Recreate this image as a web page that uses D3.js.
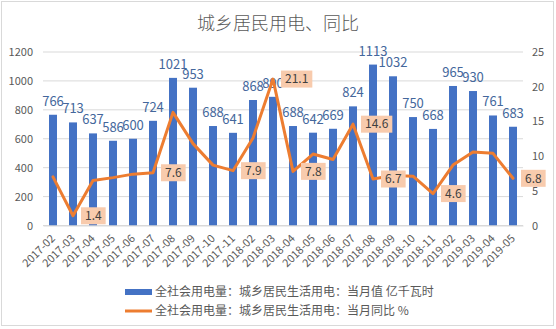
<!DOCTYPE html>
<html>
<head>
<meta charset="utf-8">
<script src="https://cdn.jsdelivr.net/npm/d3@7"></script>
<style>
  html, body { margin: 0; padding: 0; background: #fff; }
  svg { display: block; font-family: "Noto Sans CJK SC", "Noto Sans", sans-serif; }
</style>
</head>
<body>
<svg id="chart" width="556" height="329"></svg>
<script>
// Monthly urban & rural household electricity use (100 million kWh) and YoY growth (%)
const months = ["2017-02","2017-03","2017-04","2017-05","2017-06","2017-07","2017-08","2017-09","2017-10","2017-11",
                "2018-02","2018-03","2018-04","2018-05","2018-06","2018-07","2018-08","2018-09","2018-10","2018-11",
                "2019-02","2019-03","2019-04","2019-05"];
const monthlyValue = [766,713,637,586,600,724,1021,953,688,641,868,890,688,642,669,824,1113,1032,750,668,965,930,761,683];
const yoyGrowth = [7.0,1.4,6.5,6.9,7.4,7.6,16.3,11.8,8.7,7.9,12.6,21.1,7.8,10.3,9.5,14.6,6.7,7.2,7.1,4.6,8.7,10.6,10.4,6.8];
// growth values that carry a boxed label (null = no label)
const yoyLabels = [null,"1.4",null,null,null,"7.6",null,null,null,"7.9",null,"21.1","7.8",null,null,"14.6","6.7",null,null,"4.6",null,null,null,"6.8"];
const leftTicks = [0,200,400,600,800,1000,1200];
const rightTicks = [0,5,10,15,20,25];
const titleText = "城乡居民用电、同比";
const legendBar = "全社会用电量：城乡居民生活用电：当月值 亿千瓦时";
const legendLine = "全社会用电量：城乡居民生活用电：当月同比 %";

const svg = d3.select("#chart");
const plot = { left: 43, right: 523, top: 52, bottom: 225.5 };
const grey = "#595959";
const barColor = "#4472C4";
const lineColor = "#ED7D31";

// chart area frame
svg.append("rect").attr("x", 1.5).attr("y", 1.5).attr("width", 552).attr("height", 324)
  .attr("fill", "#fff").attr("stroke", "#d9d9d9");

const x = d3.scaleBand().domain(months).range([plot.left, plot.right])
  .paddingInner(0.6).paddingOuter(0.3);
const yL = d3.scaleLinear().domain([0, 1200]).range([plot.bottom, plot.top]);
const yR = d3.scaleLinear().domain([0, 25]).range([plot.bottom, plot.top]);
const cx = d => x(d) + x.bandwidth() / 2;

// title
svg.append("text").attr("x", 278).attr("y", 30).attr("text-anchor", "middle")
  .attr("font-size", 18).attr("font-weight", 300).attr("fill", grey).text(titleText);

// horizontal gridlines
svg.append("g").selectAll("line").data(leftTicks).join("line")
  .attr("x1", plot.left).attr("x2", plot.right)
  .attr("y1", d => yL(d)).attr("y2", d => yL(d))
  .attr("stroke", "#d9d9d9").attr("stroke-width", 1);

// left axis
const gL = svg.append("g").attr("transform", `translate(${plot.left},0)`)
  .call(d3.axisLeft(yL).tickValues(leftTicks).tickFormat(d3.format("d")).tickSize(0).tickPadding(10));
gL.select(".domain").remove();
gL.selectAll("text").attr("fill", grey).attr("font-size", 11)
  .style("font-family", "'Noto Sans CJK SC', sans-serif");

// right axis
const gR = svg.append("g").attr("transform", `translate(${plot.right},0)`)
  .call(d3.axisRight(yR).tickValues(rightTicks).tickFormat(d3.format("d")).tickSize(0).tickPadding(9));
gR.select(".domain").remove();
gR.selectAll("text").attr("fill", grey).attr("font-size", 11)
  .style("font-family", "'Noto Sans CJK SC', sans-serif");

// bars
svg.append("g").selectAll("rect").data(months).join("rect")
  .attr("x", d => x(d)).attr("width", x.bandwidth())
  .attr("y", (d, i) => yL(monthlyValue[i]))
  .attr("height", (d, i) => plot.bottom - yL(monthlyValue[i]))
  .attr("fill", barColor);

// bottom axis with rotated month labels
const gX = svg.append("g").attr("transform", `translate(0,${plot.bottom})`)
  .call(d3.axisBottom(x).tickSize(0).tickPadding(0));
gX.select(".domain").attr("stroke", "#d9d9d9");
gX.selectAll("text")
  .attr("fill", grey).attr("font-size", 11)
  .style("font-family", "'Noto Sans CJK SC', sans-serif")
  .attr("text-anchor", "end")
  .attr("dy", "0.35em").attr("y", 0)
  .attr("transform", "translate(0,11) rotate(-45)");

// bar value labels
svg.append("g").selectAll("text").data(months).join("text")
  .attr("x", d => cx(d)).attr("y", (d, i) => yL(monthlyValue[i]) - 9)
  .attr("text-anchor", "middle").attr("font-size", 13).attr("fill", "#44679c")
  .text((d, i) => monthlyValue[i]);

// YoY growth line
const line = d3.line().x((d, i) => cx(months[i])).y(d => yR(d));
svg.append("path").datum(yoyGrowth).attr("d", line)
  .attr("fill", "none").attr("stroke", lineColor).attr("stroke-width", 3)
  .attr("stroke-linejoin", "round").attr("stroke-linecap", "round");

// boxed growth labels
const lbl = svg.append("g").selectAll("g")
  .data(months.map((m, i) => ({ m, v: yoyGrowth[i], t: yoyLabels[i] })).filter(d => d.t))
  .join("g")
  .attr("transform", d => `translate(${cx(d.m) + 8},${yR(d.v)})`);
lbl.append("rect").attr("fill", "#F8CBAD");
lbl.append("text").attr("font-size", 12).attr("fill", "#404040")
  .attr("dy", "0.35em").attr("x", 4).text(d => d.t);
lbl.each(function () {
  const g = d3.select(this);
  const w = g.select("text").node().getComputedTextLength();
  g.select("rect").attr("x", 0).attr("y", -8.5).attr("width", w + 8).attr("height", 17);
});

// legend
const lg = svg.append("g");
lg.append("rect").attr("x", 125).attr("y", 289).attr("width", 27).attr("height", 6).attr("fill", barColor);
lg.append("text").attr("x", 155).attr("y", 292).attr("dy", "0.35em")
  .attr("font-size", 12).attr("fill", grey).text(legendBar);
lg.append("line").attr("x1", 125).attr("x2", 152).attr("y1", 311).attr("y2", 311)
  .attr("stroke", lineColor).attr("stroke-width", 3);
lg.append("text").attr("x", 155).attr("y", 311).attr("dy", "0.35em")
  .attr("font-size", 12).attr("fill", grey).text(legendLine);
</script>
</body>
</html>
